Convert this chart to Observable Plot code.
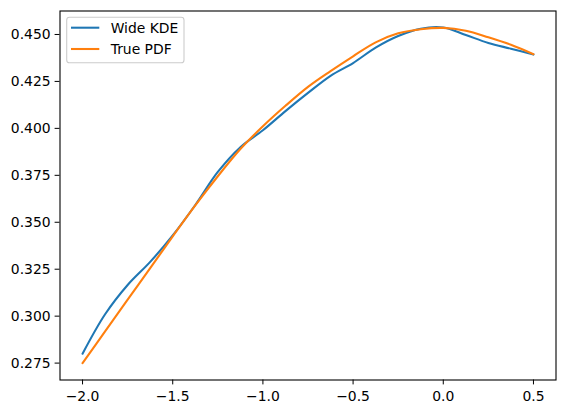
<!DOCTYPE html>
<html>
<head>
<meta charset="utf-8">
<script src="https://cdn.jsdelivr.net/npm/d3@7"></script>
<script src="https://cdn.jsdelivr.net/npm/@observablehq/plot@0.6"></script>
<style>
  html, body { margin: 0; padding: 0; background: #fff; }
</style>
</head>
<body>
<div id="chart"></div>
<script>
const xValues = [-2.0, -1.875, -1.75, -1.625, -1.5, -1.375, -1.25, -1.125, -1.0, -0.875, -0.75, -0.625, -0.5, -0.375, -0.25, -0.125, 0.0, 0.125, 0.25, 0.375, 0.5];
const kdeValues = [0.2800, 0.3010, 0.3166, 0.3289, 0.3430, 0.3592, 0.3768, 0.3900, 0.3990, 0.4092, 0.4189, 0.4280, 0.4348, 0.4430, 0.4492, 0.4531, 0.4537, 0.4497, 0.4455, 0.4424, 0.4393];
const pdfValues = [0.2750, 0.2919, 0.3088, 0.3256, 0.3425, 0.3590, 0.3745, 0.3890, 0.4011, 0.4120, 0.4221, 0.4305, 0.4384, 0.4458, 0.4506, 0.4528, 0.4535, 0.4520, 0.4485, 0.4445, 0.4395];
const seriesNames = ["Wide KDE", "True PDF"];
const seriesColors = ["#1f77b4", "#ff7f0e"];
const xTicks = [-2.0, -1.5, -1.0, -0.5, 0.0, 0.5];
const yTicks = [0.275, 0.300, 0.325, 0.350, 0.375, 0.400, 0.425, 0.450];

const data = [];
const seriesValues = [kdeValues, pdfValues];
seriesNames.forEach((name, s) => {
  xValues.forEach((x, i) => data.push({x, y: seriesValues[s][i], series: name}));
});

const W = 565, H = 413;
const mL = 59.5, mT = 10.5, mR = 9.5, mB = 33.5;

const plot = Plot.plot({
  width: W, height: H,
  marginLeft: mL, marginTop: mT, marginRight: mR, marginBottom: mB,
  style: {fontFamily: "'DejaVu Sans', sans-serif", fontSize: "13.9px", color: "black", background: "white", overflow: "visible"},
  x: {domain: [-2.125, 0.625], ticks: xTicks, tickFormat: d3.format(".1f"), label: null, tickSize: 4.9, tickPadding: 6},
  y: {domain: [0.2660, 0.4625], ticks: yTicks, tickFormat: d3.format(".3f"), label: null, tickSize: 4.9, tickPadding: 4.5},
  color: {domain: seriesNames, range: seriesColors},
  marks: [
    Plot.line(data, {x: "x", y: "y", z: "series", stroke: "series", strokeWidth: 2.08, curve: "catmull-rom"}),
    Plot.frame({stroke: "black", strokeWidth: 1.1})
  ]
});

// legend (upper left, matplotlib style)
const svg = d3.select(plot);
const lg = svg.append("g")
  .attr("font-family", "'DejaVu Sans', sans-serif")
  .attr("font-size", "13.9px")
  .attr("text-anchor", "start");
const lx = mL + 7.2, ly = mT + 6.8;
lg.append("rect")
  .attr("x", lx).attr("y", ly).attr("width", 117.3).attr("height", 45.4)
  .attr("rx", 2.8).attr("fill", "white").attr("fill-opacity", 0.8)
  .attr("stroke", "#cccccc").attr("stroke-width", 1.1);
seriesNames.forEach((name, i) => {
  const cy = ly + 10.4 + i * 21.3;
  lg.append("line").attr("x1", lx + 4.3).attr("x2", lx + 32.6).attr("y1", cy).attr("y2", cy)
    .attr("stroke", seriesColors[i]).attr("stroke-width", 2.08);
  lg.append("text").attr("x", lx + 44).attr("y", cy).attr("dy", "0.36em")
    .attr("fill", "black").attr("text-anchor", "start").text(name);
});

document.getElementById("chart").appendChild(plot);
</script>
</body>
</html>
